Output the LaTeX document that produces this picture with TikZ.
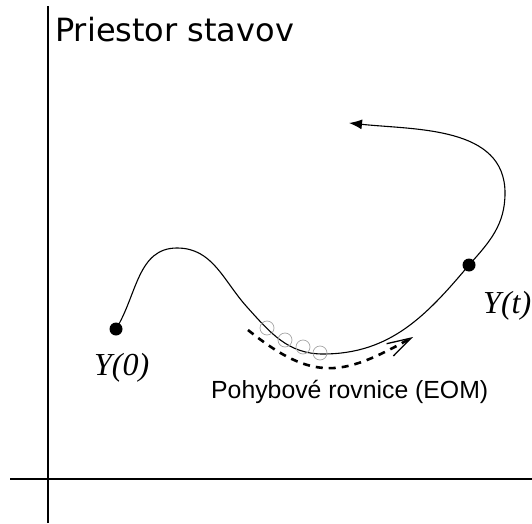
\documentclass[tikz,border=0pt]{standalone}
\usepackage{fontspec}
\newfontfamily\titlefont{DejaVu Sans}
\newfontfamily\eomfont{Liberation Sans}
\newfontfamily\statefont{Liberation Serif}
\usetikzlibrary{positioning, arrows.meta}

\begin{document}
\begin{tikzpicture}[x=1pt, y=1pt,
  axis/.style={line width=2pt},
  traj/.style={line width=1.1pt},
  dot/.style={circle, fill=black, inner sep=0pt, minimum size=13pt},
  ball/.style={gray!70, line width=0.7pt},
  eom/.style={line width=2.6pt, dash pattern=on 7pt off 6pt},
  lbl/.style={inner sep=0pt, anchor=base west},
  statelbl/.style={lbl, font=\statefont\itshape\fontsize{32}{36}\selectfont}]
  \useasboundingbox (0,0) rectangle (532,523);
  % axes
  \coordinate (ytop) at (48,517);
  \coordinate (ybot) at (48,0);
  \coordinate (xleft) at (10,44);
  \coordinate (xright) at (532,44);
  \draw[axis] (ybot) -- (ytop);
  \draw[axis] (xleft) -- (xright);
  \node[lbl, font=\titlefont\fontsize{32}{38}\selectfont] (title) at (55,481) {Priestor stavov};
  % states on the trajectory
  \node[dot] (y0) at (116,194) {};
  \node[dot] (yt) at (469,258) {};
  \node[statelbl] (y0lbl) at (94,148) {Y(0)};
  \node[statelbl] (ytlbl) at (483,210) {Y(t)};
  \coordinate (peak) at (177,275);
  \coordinate (bend) at (247,216);
  \coordinate (low) at (323,169);
  \coordinate (far) at (505,330);
  \coordinate (tip) at (349,400);
  \draw[traj, -{Latex[length=13pt, width=10pt]}] (y0.center) to[out=58, in=180] (peak)
    to[out=0, in=132] (bend) to[out=-48, in=180] (low) to[out=0, in=-130] (yt.center)
    to[out=48, in=-90] (far) to[out=90, in=-6] (tip);
  % small steps along the path
  \foreach \p in {(267,195), (285,183), (303,176), (320,170)}
    \draw[ball] \p circle (7pt);
  % equations of motion
  \coordinate (eomstart) at (248,193);
  \coordinate (eomend) at (413,186);
  \draw[eom, -{Straight Barb[length=24pt, width=14pt, line width=1.3pt]}]
    (eomstart) .. controls (314,140) and (343,147) .. (eomend);
  \node[lbl, font=\eomfont\fontsize{24.8}{29}\selectfont] (eomlbl) at (211,125) {Pohybové rovnice (EOM)};
\end{tikzpicture}
\end{document}
